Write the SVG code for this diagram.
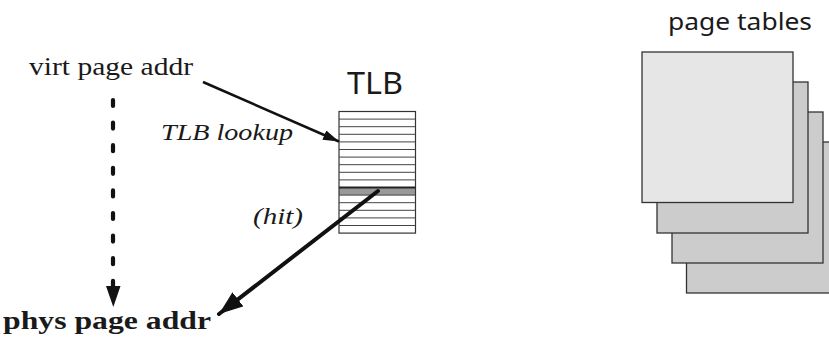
<svg xmlns="http://www.w3.org/2000/svg" width="829" height="340" viewBox="0 0 829 340">
<defs>
<style>
.serif{font-family:"Liberation Serif","DejaVu Serif",serif;fill:#1a1a1a}
.sans{font-family:"Noto Sans","DejaVu Sans",sans-serif;fill:#1a1a1a}
.row{stroke:#444;stroke-width:1}
.pt{stroke:#333;stroke-width:1.3;fill:#cccccc}
.pt.front{fill:#e6e6e6}
.conn{stroke:#111;fill:none}
</style>
<marker id="ahSmall" viewBox="0 0 16 10" refX="16" refY="5" markerWidth="16" markerHeight="10" markerUnits="userSpaceOnUse" orient="auto">
<path d="M0,0 L16,5 L0,10 z" fill="#111"/>
</marker>
<marker id="ahBig" viewBox="0 0 24 18" refX="24" refY="9" markerWidth="24" markerHeight="18" markerUnits="userSpaceOnUse" orient="auto">
<path d="M0,0 L24,9 L0,18 z" fill="#111"/>
</marker>
</defs>
<rect width="829" height="340" fill="#fff"/>

<g id="virt">
<text class="serif" x="29" y="75" font-size="25.5" textLength="164" lengthAdjust="spacingAndGlyphs">virt page addr</text>
</g>
<g id="phys">
<text class="serif" x="3" y="329" font-size="25.5" font-weight="bold" textLength="208" lengthAdjust="spacingAndGlyphs">phys page addr</text>
</g>

<g id="tlb">
<text class="sans" x="347" y="94" font-size="31" textLength="56" lengthAdjust="spacingAndGlyphs">TLB</text>
<rect x="339" y="187.3" width="76.5" height="7.8" fill="#999"/>
<rect x="339" y="111.5" width="76.5" height="121.6" fill="none" stroke="#333" stroke-width="1.2"/>
<g class="row">
<line x1="339" y1="119.1" x2="415.5" y2="119.1"/>
<line x1="339" y1="126.7" x2="415.5" y2="126.7"/>
<line x1="339" y1="134.3" x2="415.5" y2="134.3"/>
<line x1="339" y1="141.9" x2="415.5" y2="141.9"/>
<line x1="339" y1="149.5" x2="415.5" y2="149.5"/>
<line x1="339" y1="157.1" x2="415.5" y2="157.1"/>
<line x1="339" y1="164.7" x2="415.5" y2="164.7"/>
<line x1="339" y1="172.3" x2="415.5" y2="172.3"/>
<line x1="339" y1="179.9" x2="415.5" y2="179.9"/>
<line x1="339" y1="187.5" x2="415.5" y2="187.5" stroke="#222" stroke-width="1.8"/>
<line x1="339" y1="195.1" x2="415.5" y2="195.1"/>
<line x1="339" y1="202.7" x2="415.5" y2="202.7"/>
<line x1="339" y1="210.3" x2="415.5" y2="210.3"/>
<line x1="339" y1="217.9" x2="415.5" y2="217.9"/>
<line x1="339" y1="225.5" x2="415.5" y2="225.5"/>
</g>
</g>

<g id="pagetables">
<text class="sans" x="668" y="30" font-size="24" textLength="144" lengthAdjust="spacingAndGlyphs">page tables</text>
<rect class="pt" x="686.5" y="142" width="152" height="151"/>
<rect class="pt" x="672" y="112" width="151" height="151"/>
<rect class="pt" x="657" y="82" width="151" height="151"/>
<rect class="pt front" x="642" y="52" width="151" height="150.5"/>
</g>

<g id="connectors">
<line class="conn" x1="203" y1="82" x2="339" y2="141.5" stroke-width="2.5" marker-end="url(#ahSmall)"/>
<line class="conn" x1="113" y1="100" x2="113" y2="286" stroke-width="4.2" stroke-linecap="round" stroke-dasharray="6 16.6"/>
<path d="M106,286 L120.5,286 L113.3,307 z" fill="#111"/>
<line class="conn" x1="378" y1="191" x2="219" y2="314" stroke-width="4" stroke-linecap="round" marker-end="url(#ahBig)"/>
<text class="serif" x="161" y="140" font-size="23" font-style="italic" textLength="132" lengthAdjust="spacingAndGlyphs">TLB lookup</text>
<text class="serif" x="253" y="224" font-size="23" font-style="italic" textLength="50" lengthAdjust="spacingAndGlyphs">(hit)</text>
</g>
</svg>
